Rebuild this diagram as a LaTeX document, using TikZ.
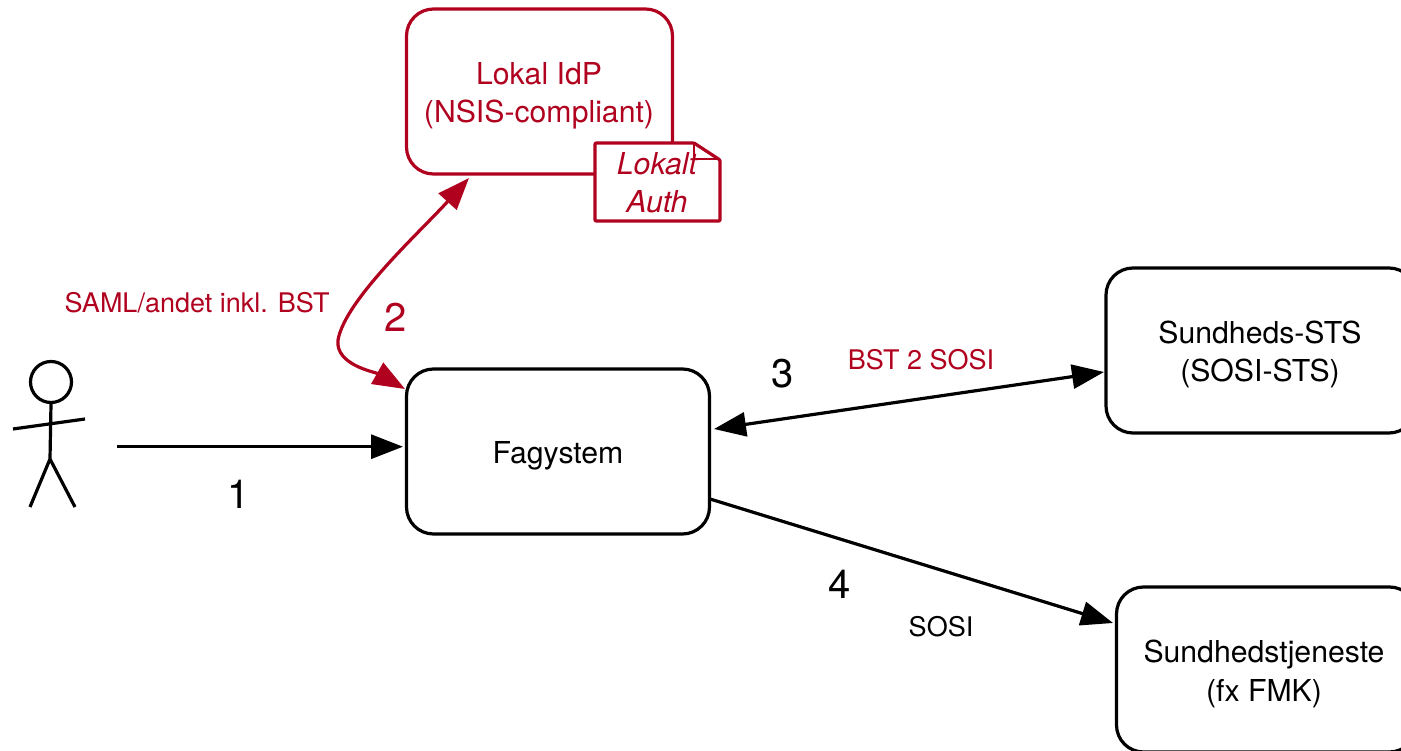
\documentclass[tikz,border=0pt]{standalone}
\usepackage{fontspec}
\setmainfont{TeX Gyre Heros}
\usetikzlibrary{arrows.meta}
\definecolor{rd}{HTML}{B0021F}
\tikzset{
 px/.style={x=1pt,y=-1pt},
 boxs/.style={draw,line width=3.2pt,rounded corners=27pt,inner sep=0pt},
 boxt/.style={align=center,font=\fontsize{30.2}{39}\selectfont,inner sep=0pt},
 lab/.style={font=\fontsize{27}{30}\selectfont,inner sep=0pt},
 num/.style={font=\fontsize{40}{44}\selectfont,inner sep=0pt},
 conn/.style={line width=3.2pt,-{Triangle[length=32pt,width=24pt]}},
 bi/.style={line width=3.2pt,{Triangle[length=32pt,width=24pt]}-{Triangle[length=32pt,width=24pt]}},
}
\begin{document}
\begin{tikzpicture}[px]
\useasboundingbox (0,0) rectangle (1401,751);
\node[boxs,draw=rd,minimum width=266pt,minimum height=165pt] (idp) at (539.5,91.5) {};
\node[boxt,rd,font=\fontsize{30.2}{38}\selectfont] (idpt) at (539,96) {Lokal IdP\\(NSIS-compliant)};
\node[boxs,minimum width=303pt,minimum height=165pt] (fag) at (558,451.5) {};
\node[boxt] (fagt) at (558,455.5) {Fagystem};
\node[boxs,minimum width=310pt,minimum height=165pt] (sts) at (1261,350.5) {};
\node[boxt,font=\fontsize{30.2}{38}\selectfont] (stst) at (1260,354) {Sundheds-STS\\(SOSI-STS)};
\node[boxs,minimum width=300pt,minimum height=165pt] (fmk) at (1266.5,669.5) {};
\node[boxt] (fmkt) at (1264,674) {Sundhedstjeneste\\(fx FMK)};
% document
\path[fill=white,draw=rd,line width=3.2pt,line join=round,rounded corners=1pt] (595,143) -- (694,143) -- (720,160) -- (720,221) -- (595,221) -- cycle;
\draw[rd,line width=2.6pt,line join=round] (694,143) -- (694,159) -- (720,159);
\node[rd,boxt,font=\fontsize{30.2}{38}\itshape\selectfont] (doc) at (657,183) {Lokalt\\Auth};
% actor
\node[draw,circle,line width=3.2pt,minimum size=41pt,inner sep=0pt] (head) at (51,382) {};
\coordinate (neck) at (head.south);
\coordinate (hip) at (50,459);
\coordinate (armL) at (13,429);
\coordinate (armR) at (85,419);
\coordinate (legL) at (30,507);
\coordinate (legR) at (75,507);
\draw[line width=3.2pt] (neck) -- (hip) (armL) -- (armR) (legL) -- (hip) -- (legR);
% connectors
\coordinate (c1s) at (117,446.7);
\coordinate (c1e) at (403,446.7);
\draw[conn] (c1s) -- (c1e);
\coordinate (c2a) at (469,178);
\coordinate (c2b) at (405,389);
\draw[bi,rd] (c2a) .. controls (420,232) and (345,300) .. (338,340) .. controls (335,365) and (375,372) .. (c2b);
\coordinate (c3a) at (714,429);
\coordinate (c3b) at (1104,372);
\draw[bi] (c3a) -- (c3b);
\coordinate (c4a) at (710,499);
\coordinate (c4b) at (1113,623);
\draw[conn] (c4a) -- (c4b);
% labels
\node[lab,rd] (l1) at (197,303) {SAML/andet inkl. BST};
\node[lab,rd] (l2) at (921,360) {BST 2 SOSI};
\node[lab] (l3) at (941,627) {SOSI};
\node[num] (n1) at (239,494) {1};
\node[num,rd] (n2) at (396,317) {2};
\node[num] (n3) at (783,374) {3};
\node[num] (n4) at (840,584) {4};
\end{tikzpicture}
\end{document}
